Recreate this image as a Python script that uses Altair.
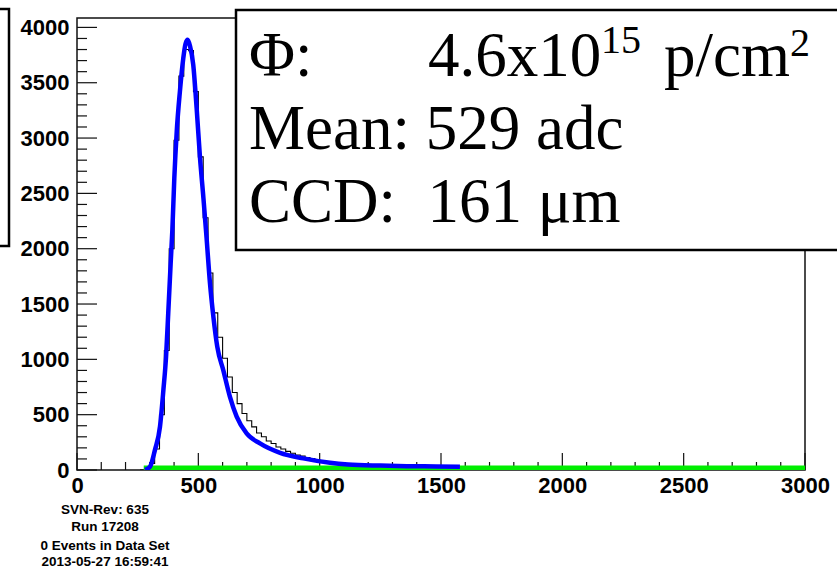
import altair as alt
import pandas as pd

# ---- data -------------------------------------------------------------
# histogram: lower edges of 20-adc bins and the entries in each bin
hist_lo = list(range(260, 2000, 20))
hist_n = [
    0, 10, 60, 190, 500, 1080, 2000, 2980, 3560, 3800,
    3790, 3420, 2830, 2280, 1780, 1420, 1200, 1010, 840, 700,
    600, 510, 445, 390, 335, 300, 262, 240, 208, 190,
    168, 152, 136, 126, 112, 104, 92, 86, 76, 71,
    63, 60, 54, 51, 47, 45, 42, 40, 38, 36,
    35, 33, 32, 30, 30, 28, 27, 26, 25, 24,
    24, 23, 22, 21, 20, 20, 19, 18, 18, 17,
    17, 16, 15, 15, 14, 14, 13, 13, 12, 12,
    11, 11, 10, 10, 10, 9, 9,
]

# fitted Landau-like curve (adc, entries)
fit_adc = [280, 301, 321, 342, 356, 367, 376, 386, 393, 401, 411, 424, 438,
           447, 456, 466, 479, 493, 507, 521, 534, 548, 562, 578, 603, 630,
           658, 699, 754, 837, 933, 1043, 1117, 1250, 1359, 1480, 1578]
fit_val = [0, 30, 180, 392, 723, 1025, 1417, 1869, 2170, 2637, 3059, 3420,
           3722, 3850, 3888, 3830, 3662, 3270, 2818, 2457, 2095, 1688, 1386,
           1115, 900, 663, 482, 330, 240, 155, 105, 65, 50, 40, 35, 32, 30]

# pedestal / noise line along zero
base_adc = [275, 3000]
base_val = [0, 0]

x_major = [0, 500, 1000, 1500, 2000, 2500, 3000]
x_minor = [v for v in range(0, 3001, 100) if v % 500]
y_major = [0, 500, 1000, 1500, 2000, 2500, 3000, 3500, 4000]
y_minor = [v for v in range(0, 4001, 100) if v % 500]

box_lines = ["Φ:", "Mean: 529 adc", "CCD:\u00a0 161 μm"]
footer = ["SVN-Rev: 635", "Run 17208", "0 Events in Data Set", "2013-05-27 16:59:41"]

# ---- layout -----------------------------------------------------------
W, H = 728, 452
X_MAX, Y_MAX = 3000, 4085
xs = alt.Scale(domain=[0, X_MAX], nice=False, zero=False)
ys = alt.Scale(domain=[0, Y_MAX], nice=False, zero=False)
LABEL_FONT = "Liberation Sans"
SERIF = "Liberation Serif"

x_axis = alt.Axis(values=x_major, format="d", title="", domain=False, ticks=False, tickSize=0,
                  grid=False, labelFont=LABEL_FONT, labelFontWeight="bold",
                  labelFontSize=22, labelColor="black", labelPadding=5,
                  labelFlush=False, labelOverlap=False)
y_axis = alt.Axis(values=y_major, format="d", title="", domain=False, ticks=False, tickSize=0,
                  grid=False, labelFont=LABEL_FONT, labelFontWeight="bold",
                  labelFontSize=22, labelColor="black", labelPadding=8,
                  labelFlush=False, labelOverlap=False)

def X(field):
    return alt.X(field, scale=xs, axis=x_axis)

def Y(field):
    return alt.Y(field, scale=ys, axis=y_axis)

one = pd.DataFrame({"k": [0]})

hist_df = pd.DataFrame({"lo": hist_lo + [2000], "n": hist_n + [0]})
fit_df = pd.DataFrame({"adc": fit_adc, "n": fit_val})
base_df = pd.DataFrame({"adc": base_adc, "n": base_val})

frame = alt.Chart(one).mark_rect(filled=False, stroke="#111111", strokeWidth=1.5).encode(
    x=alt.value(0), x2=alt.value(W), y=alt.value(0), y2=alt.value(H)
)

tick_style = dict(color="#111111", strokeWidth=1.2)
xmaj = alt.Chart(pd.DataFrame({"v": x_major})).mark_rule(**tick_style).encode(
    x=X("v:Q"), y=alt.value(H), y2=alt.value(H - 17)
)
xmin = alt.Chart(pd.DataFrame({"v": x_minor})).mark_rule(**tick_style).encode(
    x=X("v:Q"), y=alt.value(H), y2=alt.value(H - 8)
)
ymaj = alt.Chart(pd.DataFrame({"v": y_major})).mark_rule(**tick_style).encode(
    y=Y("v:Q"), x=alt.value(0), x2=alt.value(20)
)
ymin = alt.Chart(pd.DataFrame({"v": y_minor})).mark_rule(**tick_style).encode(
    y=Y("v:Q"), x=alt.value(0), x2=alt.value(10)
)

hist = alt.Chart(hist_df).mark_line(
    interpolate="step-after", color="black", strokeWidth=1.1, clip=True
).encode(x=X("lo:Q"), y=Y("n:Q"))

fit = alt.Chart(fit_df).mark_line(
    interpolate="monotone", color="#0000ff", strokeWidth=4.5, clip=True
).encode(x=X("adc:Q"), y=Y("n:Q"))

base = alt.Chart(base_df).mark_line(color="#00ee00", strokeWidth=9, clip=True).encode(
    x=X("adc:Q"), y=Y("n:Q")
)

# statistics box on the left (mostly outside the canvas) and the info box
left_box = alt.Chart(one).mark_rect(fill="white", stroke="black", strokeWidth=2.5).encode(
    x=alt.value(-100), x2=alt.value(-68), y=alt.value(-9), y2=alt.value(228)
)
info_box = alt.Chart(one).mark_rect(fill="white", stroke="black", strokeWidth=2.5).encode(
    x=alt.value(159), x2=alt.value(800), y=alt.value(-8), y2=alt.value(232)
)

def txt(s, x, y, size, font=SERIF, weight="normal", align="left", baseline="alphabetic"):
    return alt.Chart(pd.DataFrame({"t": [s]})).mark_text(
        font=font, fontSize=size, fontWeight=weight, align=align, baseline=baseline, color="black"
    ).encode(x=alt.value(x), y=alt.value(y), text="t:N")

box_text = [
    txt(box_lines[0], 172, 58, 63),
    txt("4.6x10", 351, 58, 63),
    txt("15", 524, 35, 40),
    txt("p/cm", 713, 58, 63, align="right"),
    txt("2", 713, 38, 40),
    txt(box_lines[1], 172, 131, 63),
    txt(box_lines[2], 172, 204, 63),
]

footer_y = [492, 509, 528, 544]
footer_text = [
    txt(s, 28, y, 13.5, font=LABEL_FONT, weight="bold", align="center", baseline="middle")
    for s, y in zip(footer, footer_y)
]

chart = alt.layer(
    frame, xmin, xmaj, ymin, ymaj, hist, base, fit, left_box, info_box,
    *box_text, *footer_text
).properties(
    width=W, height=H,
    autosize=alt.AutoSizeParams(type="none"),
    padding={"left": 77, "top": 18, "right": 32, "bottom": 98},
    background="white",
).configure_view(strokeWidth=0)

chart.save("out.html", embed_options={"renderer": "svg", "actions": False})
